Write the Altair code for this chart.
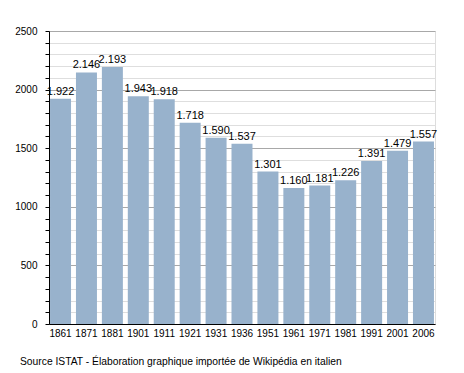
import altair as alt
import pandas as pd

years = ["1861", "1871", "1881", "1901", "1911", "1921", "1931", "1936",
         "1951", "1961", "1971", "1981", "1991", "2001", "2006"]
population = [1922, 2146, 2193, 1943, 1918, 1718, 1590, 1537,
              1301, 1160, 1181, 1226, 1391, 1479, 1557]
y_ticks = list(range(0, 2501, 100))
source_text = "Source ISTAT - Élaboration graphique importée de Wikipédia en italien"

df = pd.DataFrame({"year": years, "pop": population})
df["label"] = [f"{v // 1000}.{v % 1000:03d}" for v in population]

FONT = "Liberation Sans"
W, H = 386, 293

x_enc = alt.X("year:N", sort=years, title=None,
              scale=alt.Scale(paddingInner=0.19, paddingOuter=0.04),
              axis=alt.Axis(labelAngle=0, ticks=False, domainColor="#000",
                            labelFontSize=10, labelFont=FONT, labelColor="#000",
                            labelPadding=4, labelOverlap=False))
y_enc = alt.Y("pop:Q", title=None,
              scale=alt.Scale(domain=[0, 2500], nice=False),
              axis=alt.Axis(values=y_ticks, tickCount=len(y_ticks) + 4,
                            labelExpr="datum.value % 500 === 0 ? datum.label : ''",
                            labelOverlap=False,
                            labelFontSize=10, labelFont=FONT, labelColor="#000",
                            format="d",
                            gridColor={"condition": {"test": "datum.value % 500 === 0", "value": "#a8a8a8"}, "value": "#dedede"},
                            tickColor="#000", tickSize=4, labelPadding=8,
                            domainColor="#000"))

bars = alt.Chart(df).mark_bar(color="#98b2cc").encode(x=x_enc, y=y_enc)
labels = alt.Chart(df).mark_text(dy=-7, fontSize=11, font=FONT, color="#000").encode(
    x=alt.X("year:N", sort=years), y="pop:Q", text="label:N")
src = alt.Chart(pd.DataFrame({"t": [source_text]})).mark_text(
    align="left", baseline="middle", fontSize=10.3, font=FONT, color="#000"
).encode(x=alt.value(-29), y=alt.value(H + 38), text="t:N")

chart = alt.layer(bars, labels, src).properties(
    width=W, height=H, autosize=alt.AutoSizeParams(type="none"),
    padding={"left": 41, "top": 23, "right": 21, "bottom": 49}
).configure_view(stroke=None).configure(background="white")

chart.save("out.html", embed_options={"renderer": "svg", "actions": False})
